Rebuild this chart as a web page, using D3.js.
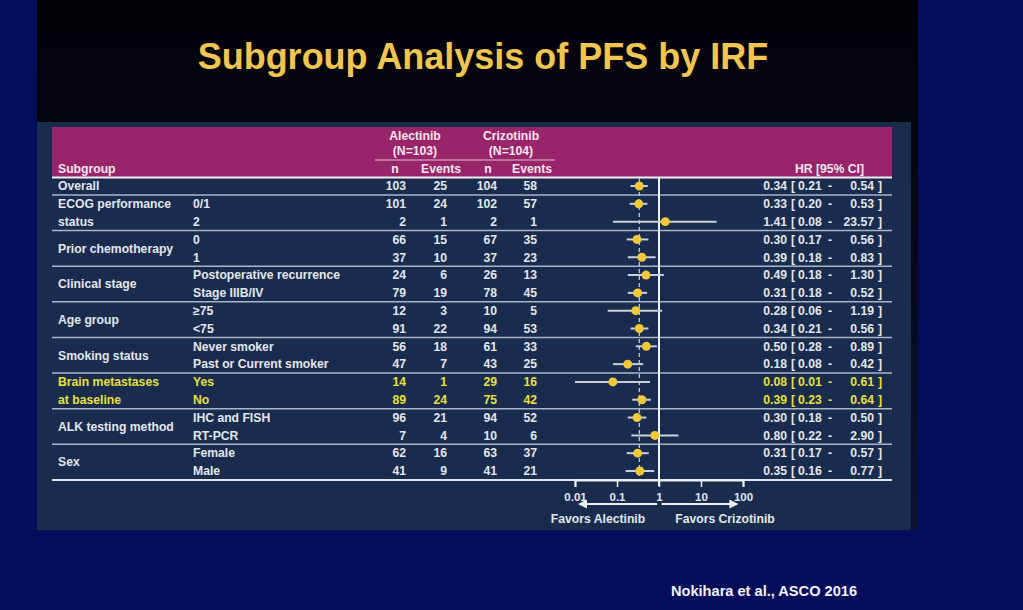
<!DOCTYPE html>
<html>
<head>
<meta charset="utf-8">
<script src="https://cdn.jsdelivr.net/npm/d3@7"></script>
<style>
  body { margin: 0; background: #040d5c; }
  svg { display: block; }
  text { font-family: "Liberation Sans", Arial, sans-serif; font-weight: bold; }
</style>
</head>
<body>
<svg id="chart" width="1023" height="610" viewBox="0 0 1023 610"></svg>
<script>
// table data
const groupNames = [["Overall"], ["ECOG performance", "status"], ["Prior chemotherapy"], ["Clinical stage"],
    ["Age group"], ["Smoking status"], ["Brain metastases", "at baseline"], ["ALK testing method"], ["Sex"]];
const groupSizes = [1, 2, 2, 2, 2, 2, 2, 2, 2];
const levels = ["", "0/1", "2", "0", "1", "Postoperative recurrence", "Stage IIIB/IV", "\u226575", "<75",
    "Never smoker", "Past or Current smoker", "Yes", "No", "IHC and FISH", "RT-PCR", "Female", "Male"];
const alecN = [103, 101, 2, 66, 37, 24, 79, 12, 91, 56, 47, 14, 89, 96, 7, 62, 41];
const alecEvents = [25, 24, 1, 15, 10, 6, 19, 3, 22, 18, 7, 1, 24, 21, 4, 16, 9];
const crizN = [104, 102, 2, 67, 37, 26, 78, 10, 94, 61, 43, 29, 75, 94, 10, 63, 41];
const crizEvents = [58, 57, 1, 35, 23, 13, 45, 5, 53, 33, 25, 16, 42, 52, 6, 37, 21];
const hr = [0.34, 0.33, 1.41, 0.30, 0.39, 0.49, 0.31, 0.28, 0.34, 0.50, 0.18, 0.08, 0.39, 0.30, 0.80, 0.31, 0.35];
const ciLow = [0.21, 0.20, 0.08, 0.17, 0.18, 0.18, 0.18, 0.06, 0.21, 0.28, 0.08, 0.01, 0.23, 0.18, 0.22, 0.17, 0.16];
const ciHigh = [0.54, 0.53, 23.57, 0.56, 0.83, 1.30, 0.52, 1.19, 0.56, 0.89, 0.42, 0.61, 0.64, 0.50, 2.90, 0.57, 0.77];
const axisTicks = [0.01, 0.1, 1, 10, 100];
const highlightGroup = 6;

const svg = d3.select("#chart");
const textCol = "#e3e6ee";
const yellow = "#e9e03c";
const lineCol = "#aab4c8";
const fs = 12.2;

// backgrounds
const defs = svg.append("defs");
const grad = defs.append("linearGradient").attr("id", "topgrad").attr("x1", 0).attr("x2", 0).attr("y1", 0).attr("y2", 1);
grad.append("stop").attr("offset", 0).attr("stop-color", "#020208");
grad.append("stop").attr("offset", 0.2).attr("stop-color", "#03040e");
grad.append("stop").attr("offset", 1).attr("stop-color", "#0b1232");
svg.append("rect").attr("x", 37).attr("y", 0).attr("width", 881).attr("height", 530).attr("fill", "url(#topgrad)");
svg.append("rect").attr("x", 37).attr("y", 122).attr("width", 874).attr("height", 408).attr("fill", "#1a2c4d");
svg.append("rect").attr("x", 52).attr("y", 127).attr("width", 840).attr("height", 50).attr("fill", "#98246a");

svg.append("text")
    .attr("x", 483).attr("y", 69)
    .attr("text-anchor", "middle")
    .attr("font-size", 36)
    .attr("fill", "#f0c552")
    .text("Subgroup Analysis of PFS by IRF");

svg.append("text")
    .attr("x", 857).attr("y", 596)
    .attr("text-anchor", "end")
    .attr("font-size", 14.6)
    .attr("fill", "#f2f2f6")
    .text("Nokihara et al., ASCO 2016");

// scales
const y = d3.scaleLinear().domain([0, 16]).range([186, 471]);
const x = d3.scaleLog().domain([0.01, 100]).range([575, 743]);
const rowGap = (y(1) - y(0)) / 2;
const base = 4.3;

// header
const head = svg.append("g").attr("font-size", fs).attr("fill", "#f4e6ee");
head.append("text").attr("x", 58).attr("y", 173).text("Subgroup");
head.append("text").attr("x", 864).attr("y", 173).attr("text-anchor", "end").text("HR [95% CI]");
[["Alectinib", "(N=103)", 415, 395, 441], ["Crizotinib", "(N=104)", 511, 488, 532]].forEach(h => {
    head.append("text").attr("x", h[2]).attr("y", 140).attr("text-anchor", "middle").text(h[0]);
    head.append("text").attr("x", h[2]).attr("y", 155).attr("text-anchor", "middle").text(h[1]);
    head.append("text").attr("x", h[3]).attr("y", 173).attr("text-anchor", "middle").text("n");
    head.append("text").attr("x", h[4]).attr("y", 173).attr("text-anchor", "middle").text("Events");
});
svg.append("line").attr("x1", 375).attr("x2", 555).attr("y1", 160).attr("y2", 160)
    .attr("stroke", "#d8c0d0").attr("stroke-width", 1);

// row group index
const rowGroup = [];
groupSizes.forEach((s, g) => { for (let k = 0; k < s; k++) rowGroup.push(g); });
const groupStart = groupSizes.map((s, g) => d3.sum(groupSizes.slice(0, g)));

// dividers
svg.append("line").attr("x1", 52).attr("x2", 892).attr("y1", 177.5).attr("y2", 177.5)
    .attr("stroke", "#eef0f6").attr("stroke-width", 2);
svg.selectAll(".divider")
    .data(groupStart.map((st, g) => st + groupSizes[g] - 1))
    .enter().append("line")
    .attr("class", "divider")
    .attr("x1", 52).attr("x2", 892)
    .attr("y1", d => y(d) + rowGap).attr("y2", d => y(d) + rowGap)
    .attr("stroke", (d, i) => i === groupStart.length - 1 ? "#dfe3ec" : lineCol)
    .attr("stroke-width", (d, i) => i === groupStart.length - 1 ? 2 : 1.5);

const colorOf = i => rowGroup[i] === highlightGroup ? yellow : textCol;

// group labels
const gl = svg.append("g").attr("font-size", fs);
groupNames.forEach((names, g) => {
    const st = groupStart[g];
    const col = g === highlightGroup ? yellow : textCol;
    if (names.length === 1 && groupSizes[g] === 2) {
        gl.append("text").attr("x", 58).attr("y", (y(st) + y(st + 1)) / 2 + base).attr("fill", col).text(names[0]);
    } else {
        names.forEach((n, k) => gl.append("text").attr("x", 58).attr("y", y(st + k) + base).attr("fill", col).text(n));
    }
});

// table cells
const rows = svg.append("g").attr("font-size", fs)
    .selectAll(".row").data(levels).enter().append("g")
    .attr("class", "row")
    .attr("transform", (d, i) => `translate(0,${y(i) + base})`)
    .attr("fill", (d, i) => colorOf(i));
rows.append("text").attr("x", 193).text(d => d);
const cols = [[alecN, 406], [alecEvents, 447], [crizN, 497], [crizEvents, 537]];
cols.forEach(c => {
    rows.append("text").attr("x", c[1]).attr("text-anchor", "end").text((d, i) => c[0][i]);
});
rows.append("text").attr("x", 787).attr("text-anchor", "end").text((d, i) => hr[i].toFixed(2));
rows.append("text").attr("x", 791).text("[");
rows.append("text").attr("x", 798).text((d, i) => ciLow[i].toFixed(2));
rows.append("text").attr("x", 828).text("-");
rows.append("text").attr("x", 874).attr("text-anchor", "end").text((d, i) => ciHigh[i].toFixed(2));
rows.append("text").attr("x", 878).text("]");

// forest plot reference lines
const plotTop = 178, plotBottom = 480;
svg.append("line").attr("x1", x(hr[0])).attr("x2", x(hr[0])).attr("y1", plotTop).attr("y2", plotBottom)
    .attr("stroke", "#c8cfdc").attr("stroke-width", 1.2).attr("stroke-dasharray", "4,3");
svg.append("line").attr("x1", x(1)).attr("x2", x(1)).attr("y1", plotTop).attr("y2", plotBottom + 6)
    .attr("stroke", "#f2f4f8").attr("stroke-width", 2);

// CIs and points
const marks = svg.append("g").selectAll(".mark").data(hr).enter().append("g").attr("class", "mark");
marks.append("line")
    .attr("x1", (d, i) => x(ciLow[i])).attr("x2", (d, i) => x(ciHigh[i]))
    .attr("y1", (d, i) => y(i)).attr("y2", (d, i) => y(i))
    .attr("stroke", "#c9cfdb").attr("stroke-width", 2);
marks.append("circle")
    .attr("cx", d => x(d)).attr("cy", (d, i) => y(i)).attr("r", 4.5)
    .attr("fill", "#f1c838");

// log axis
const axisG = svg.append("g").attr("transform", `translate(0,${plotBottom})`)
    .call(d3.axisBottom(x).tickValues(axisTicks).tickFormat(d3.format("~g")).tickSize(7).tickPadding(6));
axisG.select(".domain").attr("stroke", "#eef0f6").attr("stroke-width", 2);
axisG.selectAll(".tick line").attr("stroke", "#eef0f6").attr("stroke-width", 1.5);
axisG.selectAll(".tick text").attr("fill", textCol).attr("font-size", 11.5)
    .attr("font-family", "Liberation Sans, Arial, sans-serif").attr("font-weight", "bold");

// favours arrows
const arrowY = 504;
defs.append("marker").attr("id", "ah").attr("viewBox", "0 0 10 10").attr("refX", 8).attr("refY", 5)
    .attr("markerWidth", 4.5).attr("markerHeight", 4.5).attr("orient", "auto-start-reverse")
    .append("path").attr("d", "M0,0L10,5L0,10Z").attr("fill", "#eef0f6");
svg.append("line").attr("x1", x(0.9)).attr("x2", x(0.013)).attr("y1", arrowY).attr("y2", arrowY)
    .attr("stroke", "#eef0f6").attr("stroke-width", 2).attr("marker-end", "url(#ah)");
svg.append("line").attr("x1", x(1.15)).attr("x2", x(70)).attr("y1", arrowY).attr("y2", arrowY)
    .attr("stroke", "#eef0f6").attr("stroke-width", 2).attr("marker-end", "url(#ah)");
svg.append("text").attr("x", 598).attr("y", 523).attr("text-anchor", "middle").attr("font-size", fs)
    .attr("fill", textCol).text("Favors Alectinib");
svg.append("text").attr("x", 725).attr("y", 523).attr("text-anchor", "middle").attr("font-size", fs)
    .attr("fill", textCol).text("Favors Crizotinib");
</script>
</body>
</html>
